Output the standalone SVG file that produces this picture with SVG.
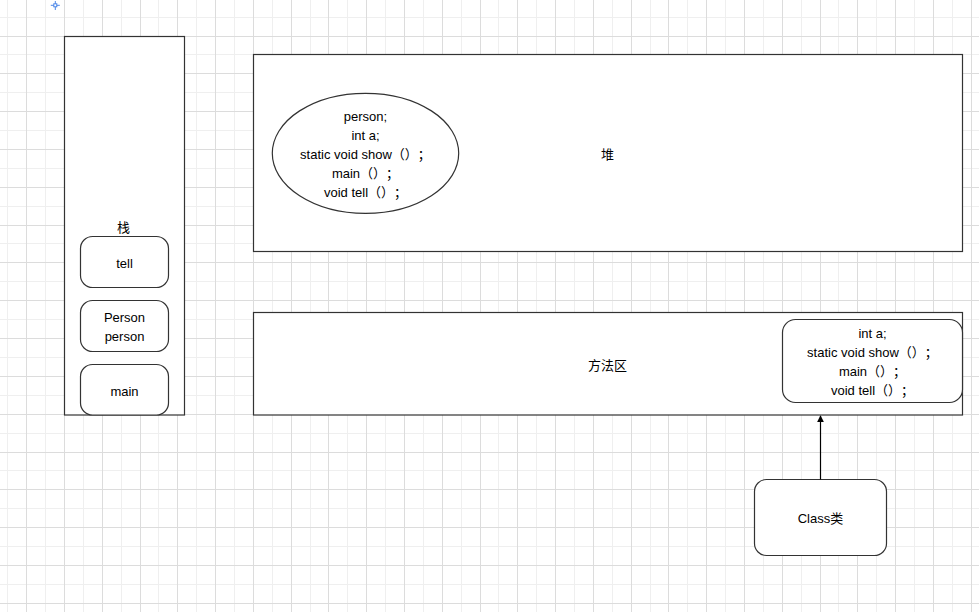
<svg xmlns="http://www.w3.org/2000/svg" width="979" height="612" viewBox="0 0 979 612">
<defs>
<style>
.minor{stroke:#efefef;stroke-width:1;fill:none}
.major{stroke:#dcdcdc;stroke-width:1;fill:none}
.box{fill:#ffffff;stroke:#333333;stroke-width:1.2}
.rbox{fill:#ffffff;stroke:#333333;stroke-width:1.2}
.t{font-family:"Liberation Sans","Noto Sans CJK SC",sans-serif;font-size:13px;fill:#000000;text-anchor:middle;dominant-baseline:central;text-spacing-trim:space-all;font-feature-settings:"halt" 0,"chws" 0}
.edge{stroke:#000000;stroke-width:1.2;fill:none}
</style>
<marker id="arr" viewBox="0 0 10 10" refX="9" refY="5" markerWidth="7" markerHeight="7" markerUnits="userSpaceOnUse" orient="auto">
<path d="M0,0 L10,5 L0,10 z" fill="#000000"/>
</marker>
</defs>
<rect x="0" y="0" width="979" height="612" fill="#ffffff"/>
<g id="grid">
<path class="minor" d="M7.5,0V612M45.5,0V612M83.5,0V612M121.5,0V612M158.5,0V612M196.5,0V612M234.5,0V612M272.5,0V612M310.5,0V612M347.5,0V612M385.5,0V612M423.5,0V612M461.5,0V612M498.5,0V612M536.5,0V612M574.5,0V612M612.5,0V612M650.5,0V612M687.5,0V612M725.5,0V612M763.5,0V612M801.5,0V612M838.5,0V612M876.5,0V612M914.5,0V612M952.5,0V612 M0,17.5H979M0,54.5H979M0,92.5H979M0,130.5H979M0,168.5H979M0,206.5H979M0,243.5H979M0,281.5H979M0,319.5H979M0,357.5H979M0,395.5H979M0,433.5H979M0,470.5H979M0,508.5H979M0,546.5H979M0,584.5H979"/>
<path class="major" d="M26.5,0V612M64.5,0V612M102.5,0V612M140.5,0V612M177.5,0V612M215.5,0V612M253.5,0V612M291.5,0V612M328.5,0V612M366.5,0V612M404.5,0V612M442.5,0V612M480.5,0V612M517.5,0V612M555.5,0V612M593.5,0V612M631.5,0V612M668.5,0V612M706.5,0V612M744.5,0V612M782.5,0V612M820.5,0V612M857.5,0V612M895.5,0V612M933.5,0V612M971.5,0V612 M0,36.5H979M0,73.5H979M0,111.5H979M0,149.5H979M0,187.5H979M0,225.5H979M0,262.5H979M0,300.5H979M0,338.5H979M0,376.5H979M0,414.5H979M0,452.5H979M0,489.5H979M0,527.5H979M0,565.5H979M0,603.5H979"/>
</g>
<g id="origin">
<path d="M55.3,1V10M50.8,5.3H59.8" stroke="#4a86e8" stroke-width="1"/>
<rect x="53.8" y="3.8" width="3" height="3" fill="#ffffff" stroke="#4a86e8" stroke-width="1"/>
</g>
<g id="stack">
<rect class="box" x="64.5" y="36.5" width="120" height="378.5"/>
<text class="t" x="123.5" y="227">栈</text>
</g>
<g id="tell">
<rect class="rbox" x="80.5" y="236.5" width="88" height="51" rx="12" ry="12"/>
<text class="t" x="124.5" y="263">tell</text>
</g>
<g id="person">
<rect class="rbox" x="80.5" y="300.5" width="88" height="51" rx="12" ry="12"/>
<text class="t" x="124.5" y="317">Person</text>
<text class="t" x="124.5" y="336">person</text>
</g>
<g id="main">
<rect class="rbox" x="80.5" y="364.5" width="88" height="50.5" rx="12" ry="12"/>
<text class="t" x="124.5" y="391">main</text>
</g>
<g id="heap">
<rect class="box" x="253.5" y="54.5" width="709" height="197"/>
<text class="t" x="607.5" y="154">堆</text>
</g>
<g id="object">
<ellipse class="rbox" cx="365.5" cy="153.3" rx="93.2" ry="60"/>
<text class="t" x="365.5" y="116">person;</text>
<text class="t" x="365.5" y="135">int a;</text>
<text class="t" x="365.5" y="154">static void show（）；</text>
<text class="t" x="365.5" y="173">main（）；</text>
<text class="t" x="365.5" y="192">void tell（）；</text>
</g>
<g id="method-area">
<rect class="box" x="253.5" y="312.5" width="709" height="102.5"/>
<text class="t" x="607.5" y="365">方法区</text>
</g>
<g id="class-info">
<rect class="rbox" x="782.5" y="319.5" width="180" height="83" rx="13" ry="13"/>
<text class="t" x="872.5" y="333">int a;</text>
<text class="t" x="872.5" y="352">static void show（）；</text>
<text class="t" x="872.5" y="371">main（）；</text>
<text class="t" x="872.5" y="390">void tell（）；</text>
</g>
<g id="class">
<rect class="rbox" x="754.5" y="479.5" width="132" height="76" rx="12" ry="12"/>
<text class="t" x="820.5" y="518">Class类</text>
</g>
<g id="connectors">
<path class="edge" d="M820.5,479.5V416" marker-end="url(#arr)"/>
</g>
</svg>
